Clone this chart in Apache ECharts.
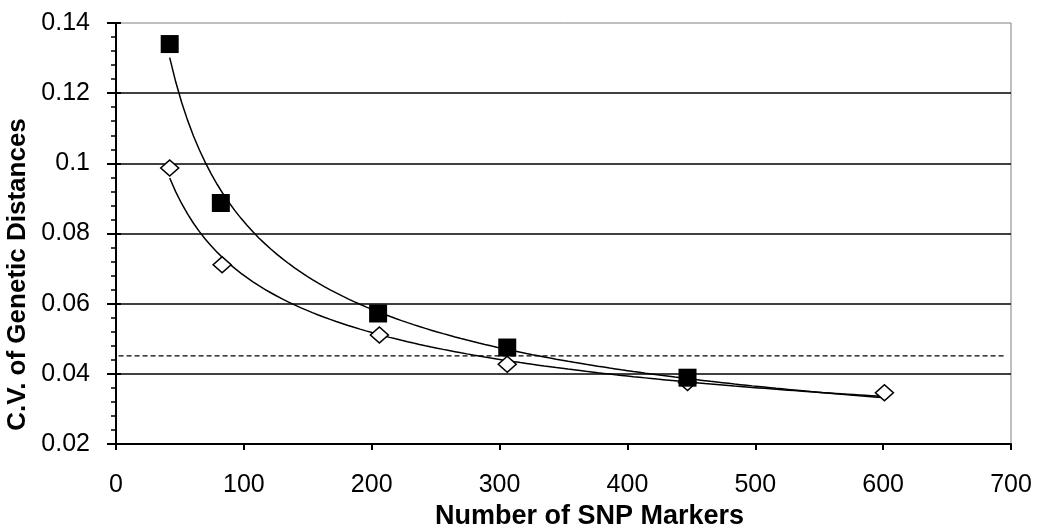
<!DOCTYPE html>
<html>
<head>
<meta charset="utf-8">
<script src="https://cdn.jsdelivr.net/npm/echarts@6/dist/echarts.min.js"></script>
<style>html,body{margin:0;padding:0;background:#fff;}#c{width:1040px;height:525px;}</style>
</head>
<body>
<div id="c"></div>
<script>
// ---- data ----
const squareX = [42, 82, 205, 306, 447];
const squareY = [0.134, 0.0887, 0.0572, 0.0475, 0.0389];
const diamondX = [42, 83, 206, 306, 447, 601];
const diamondY = [0.0987, 0.0711, 0.0511, 0.0427, 0.0375, 0.0346];
const dashedX = [2, 696];
const dashedY = [0.0451, 0.0451];
const trendEndX = 600;
const xTicks = [0, 100, 200, 300, 400, 500, 600, 700];
const yTicks = [0.02, 0.04, 0.06, 0.08, 0.1, 0.12, 0.14];
const xTitle = 'Number of SNP Markers';
const yTitle = 'C.V. of Genetic Distances';

// power-law trendline (least squares in log-log space), as in the spreadsheet trendline
function powerFit(xs, ys) {
  const n = xs.length;
  let sx = 0, sy = 0, sxx = 0, sxy = 0;
  for (let i = 0; i < n; i++) {
    const lx = Math.log(xs[i]), ly = Math.log(ys[i]);
    sx += lx; sy += ly; sxx += lx * lx; sxy += lx * ly;
  }
  const b = (n * sxy - sx * sy) / (n * sxx - sx * sx);
  const a = Math.exp((sy - b * sx) / n);
  return { a, b };
}
function trendPoints(xs, ys, x0, x1) {
  const f = powerFit(xs, ys);
  const pts = [];
  const steps = 120;
  for (let i = 0; i <= steps; i++) {
    const x = x0 + (x1 - x0) * i / steps;
    pts.push([x, f.a * Math.pow(x, f.b)]);
  }
  return pts;
}
const zip = (a, b) => a.map((v, i) => [v, b[i]]);

const chart = echarts.init(document.getElementById('c'), null, { renderer: 'canvas' });
const font = '"Liberation Sans", Arial, Helvetica, sans-serif';
const yMin = yTicks[0], yMax = yTicks[yTicks.length - 1];
chart.setOption({
  animation: false,
  backgroundColor: '#fff',
  grid: { left: 116, right: 29, top: 23, bottom: 81, containLabel: false, outerBoundsMode: 'none',
    show: true, borderColor: '#808080', borderWidth: 1, backgroundColor: 'transparent' },
  xAxis: {
    type: 'value', min: xTicks[0], max: xTicks[xTicks.length - 1], interval: 100,
    name: xTitle, nameLocation: 'middle', nameGap: 48,
    nameTextStyle: { fontFamily: font, fontSize: 27, fontWeight: 'bold', color: '#000', padding: [0, 0, 0, 52] },
    axisLine: { show: true, onZero: false, lineStyle: { color: '#000', width: 2 } },
    axisTick: { show: true, inside: false, length: 6, lineStyle: { color: '#000', width: 2 } },
    axisLabel: { fontFamily: font, fontSize: 25, color: '#000', margin: 29 },
    splitLine: { show: false }
  },
  yAxis: [{
    type: 'value', min: yMin, max: yMax, interval: 0.02,
    name: yTitle, nameLocation: 'middle', nameGap: 80,
    nameTextStyle: { fontFamily: font, fontSize: 26, fontWeight: 'bold', color: '#000', padding: [0, 82, 0, 0] },
    axisLine: { show: true, onZero: false, lineStyle: { color: '#000', width: 2 } },
    axisTick: { show: true, inside: false, length: 9, lineStyle: { color: '#000', width: 2 } },
    minorTick: { show: true, splitNumber: 5, length: 5, lineStyle: { color: '#000', width: 1.5 } },
    axisLabel: { fontFamily: font, fontSize: 25, color: '#000', margin: 26,
      formatter: v => String(parseFloat(v.toFixed(2))) },
    splitLine: { show: true, showMaxLine: false, showMinLine: false, lineStyle: { color: '#000', width: 1.5 } }
  }, {
    // inner half of the crossing major ticks
    type: 'value', min: yMin, max: yMax, interval: 0.02, position: 'left', offset: 0,
    axisLine: { show: false, onZero: false },
    axisTick: { show: true, inside: true, length: 5, lineStyle: { color: '#000', width: 2 } },
    axisLabel: { show: false },
    splitLine: { show: false }
  }],
  series: [
    { type: 'line', name: 'dashed', data: zip(dashedX, dashedY), symbol: 'none', z: 2,
      lineStyle: { color: '#000', width: 1.2, type: [5, 3] } },
    { type: 'line', name: 'trend squares', data: trendPoints(squareX, squareY, squareX[0], trendEndX), symbol: 'none', z: 3,
      lineStyle: { color: '#000', width: 1.5 } },
    { type: 'line', name: 'trend diamonds', data: trendPoints(diamondX, diamondY, diamondX[0], trendEndX), symbol: 'none', z: 3,
      lineStyle: { color: '#000', width: 1.5 } },
    { type: 'scatter', name: 'diamonds', data: zip(diamondX, diamondY), symbol: 'diamond', symbolSize: [18, 16], z: 4,
      itemStyle: { color: '#fff', borderColor: '#000', borderWidth: 1.5, opacity: 1 } },
    { type: 'scatter', name: 'squares', data: zip(squareX, squareY), symbol: 'rect', symbolSize: 18, z: 5,
      itemStyle: { color: '#000', borderColor: '#000', borderWidth: 0, opacity: 1 } }
  ]
});
</script>
</body>
</html>
